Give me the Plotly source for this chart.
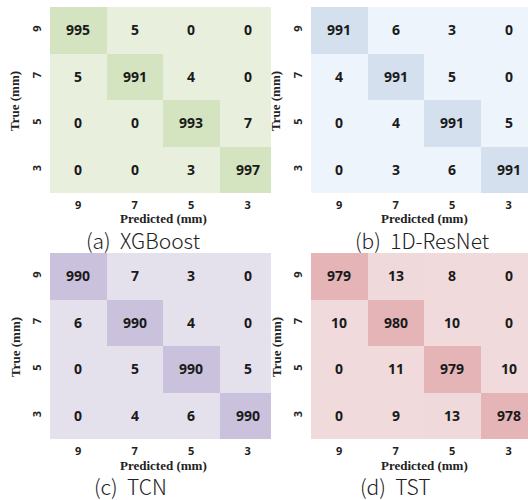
import plotly.graph_objects as go

labels = ["9", "7", "5", "3"]
cm_xgb = [[995, 5, 0, 0], [5, 991, 4, 0], [0, 0, 993, 7], [0, 0, 3, 997]]
cm_res = [[991, 6, 3, 0], [4, 991, 5, 0], [0, 4, 991, 5], [0, 3, 6, 991]]
cm_tcn = [[990, 7, 3, 0], [6, 990, 4, 0], [0, 5, 990, 5], [0, 4, 6, 990]]
cm_tst = [[979, 13, 8, 0], [10, 980, 10, 0], [0, 11, 979, 10], [0, 9, 13, 978]]
captions = ["(a)  XGBoost", "(b)  1D-ResNet", "(c)  TCN", "(d)  TST"]
colors = [("#e9efdd", "#d4e3c0"), ("#eef4fb", "#d5e0ee"),
          ("#e4e0ec", "#cac1dc"), ("#f0dadb", "#e4b4b6")]

W, H = 528, 500
# pixel layout of each panel: (left, right, top, bottom)
panels = [(50, 271, 7, 193), (311, 528, 7, 193), (50, 271, 253, 439), (311, 528, 253, 439)]
cell = 56.5
cap_pos = [(143, 240), (422, 240), (130, 486), (395, 486)]
ylab_x = [15, 276, 15, 276]

fig = go.Figure()
mats = [cm_xgb, cm_res, cm_tcn, cm_tst]
annotations = []
for i, (m, (lo, hi), (l, r, t, b)) in enumerate(zip(mats, colors, panels)):
    xa = "x" if i == 0 else f"x{i+1}"
    ya = "y" if i == 0 else f"y{i+1}"
    fig.add_trace(go.Heatmap(
        z=m, x=[0, 1, 2, 3], y=[0, 1, 2, 3],
        colorscale=[[0, lo], [1, hi]], zmin=0, zmax=max(max(row) for row in m),
        showscale=False, texttemplate="%{z}",
        textfont=dict(family="Noto Sans", size=14, color="#1a1a1a", weight="bold"),
        xaxis=xa, yaxis=ya, hoverinfo="skip"))
    xr = -0.5 + (r - l) / cell
    axk = "xaxis" if i == 0 else f"xaxis{i+1}"
    ayk = "yaxis" if i == 0 else f"yaxis{i+1}"
    fig.layout[axk] = dict(domain=[l / W, r / W], range=[-0.5, xr], anchor=ya,
                           tickvals=[0, 1, 2, 3], ticktext=labels, ticks="",
                           showgrid=False, zeroline=False, showline=False,
                           ticklabelstandoff=4,
                           tickfont=dict(family="Noto Sans", size=11, color="#222", weight="bold"))
    fig.layout[ayk] = dict(domain=[1 - b / H, 1 - t / H], range=[3.5, -0.5], anchor=xa,
                           tickvals=[0, 1, 2, 3], ticktext=labels, ticks="",
                           showgrid=False, zeroline=False, showline=False,
                           tickangle=-90, ticklabelstandoff=6,
                           tickfont=dict(family="Noto Sans", size=11, color="#222", weight="bold"))
    common = dict(xref="paper", yref="paper", showarrow=False, xanchor="center", yanchor="middle")
    annotations.append(dict(text="Predicted (mm)", x=(l + 2 * cell) / W, y=1 - (b + 26) / H,
                            font=dict(family="Liberation Serif", size=13, color="#222", weight="bold"),
                            **common))
    annotations.append(dict(text="True (mm)", x=ylab_x[i] / W, y=1 - ((t + b) / 2 + 1) / H,
                            textangle=-90,
                            font=dict(family="Liberation Serif", size=13, color="#222", weight="bold"),
                            **common))
    annotations.append(dict(text=captions[i], x=cap_pos[i][0] / W, y=1 - cap_pos[i][1] / H,
                            font=dict(family="Noto Sans CJK KR", size=21, color="#222", weight=300),
                            **common))

fig.update_layout(width=W, height=H, margin=dict(l=0, r=0, t=0, b=0),
                  paper_bgcolor="white", plot_bgcolor="white",
                  annotations=annotations, showlegend=False)
fig.write_html("out.html", config={"displayModeBar": False},
               post_script="document.body.style.margin='0px';document.body.style.overflow='hidden';")
